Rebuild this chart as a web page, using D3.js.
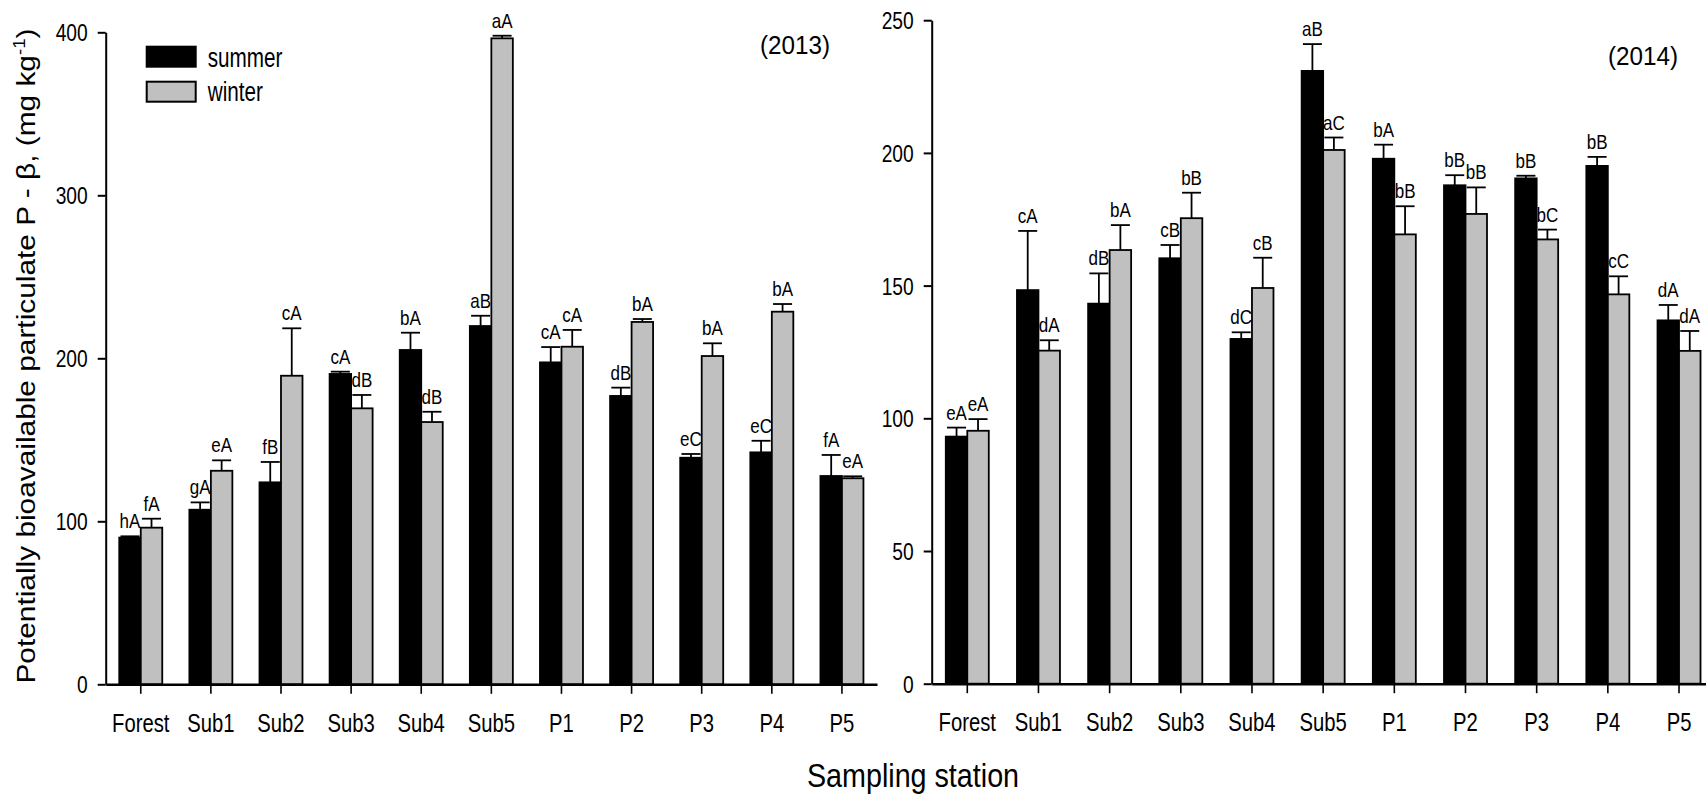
<!DOCTYPE html>
<html>
<head>
<meta charset="utf-8">
<script src="https://d3js.org/d3.v7.min.js"></script>
<style>
  body { margin: 0; background: #fff; }
  svg text { font-family: "Liberation Sans", Arial, sans-serif; fill: #000; }
  .axis path, .axis line { stroke: #000; }
</style>
</head>
<body>
<div id="chart"></div>
<script>
  // values
  const stations = ["Forest", "Sub1", "Sub2", "Sub3", "Sub4", "Sub5", "P1", "P2", "P3", "P4", "P5"];

  const summer2013 = [90.0, 107.1, 123.9, 190.4, 205.1, 219.8, 197.5, 176.9, 139.0, 142.3, 127.8];
  const summer2013Err = [0.8, 4.5, 12.5, 1.4, 10.6, 6.3, 9.4, 5.1, 2.3, 7.1, 12.9];
  const winter2013 = [96.1, 131.0, 189.3, 169.3, 160.9, 396.3, 207.1, 222.3, 201.4, 228.6, 126.4];
  const winter2013Err = [5.5, 6.4, 29.1, 8.2, 6.3, 1.6, 10.3, 1.8, 7.8, 4.7, 1.2];
  const summer2013Letters = ["hA", "gA", "fB", "cA", "bA", "aB", "cA", "dB", "eC", "eC", "fA"];
  const winter2013Letters = ["fA", "eA", "cA", "dB", "dB", "aA", "cA", "bA", "bA", "bA", "eA"];

  const summer2014 = [93.1, 148.3, 143.2, 160.3, 129.9, 230.9, 197.8, 187.8, 190.4, 195.1, 136.9];
  const summer2014Err = [3.4, 22.3, 11.4, 5.0, 2.5, 10.1, 5.3, 3.8, 1.0, 3.4, 5.8];
  const winter2014 = [95.3, 125.5, 163.4, 175.4, 149.1, 201.1, 169.3, 177.0, 167.4, 146.7, 125.4];
  const winter2014Err = [4.4, 3.9, 9.4, 9.6, 11.4, 4.7, 10.6, 10.0, 3.7, 6.8, 7.5];
  const summer2014Letters = ["eA", "cA", "dB", "cB", "dC", "aB", "bA", "bB", "bB", "bB", "dA"];
  const winter2014Letters = ["eA", "dA", "bA", "bB", "cB", "aC", "bB", "bB", "bC", "cC", "dA"];

  const ticks2013 = [0, 100, 200, 300, 400];
  const ticks2014 = [0, 50, 100, 150, 200, 250];

  const seasons = ["summer", "winter"];
  const seasonFill = { summer: "#000000", winter: "#c0c0c0" };

  const width = 1706, height = 797;
  const svg = d3.select("#chart").append("svg")
    .attr("width", width).attr("height", height);

  // text helper: the original uses a condensed face, so squeeze horizontally
  function addText(g, x, y, str, size, k, anchor) {
    return g.append("text")
      .attr("transform", `translate(${x},${y}) scale(${k},1)`)
      .attr("text-anchor", anchor || "middle")
      .style("font-size", size + "px")
      .text(str);
  }

  const panels = [
    {
      year: "(2013)", yMax: 400, ticks: ticks2013,
      summer: summer2013, summerErr: summer2013Err, summerLetters: summer2013Letters,
      winter: winter2013, winterErr: winter2013Err, winterLetters: winter2013Letters,
      left: 105.7, right: 877, top: 32.3, bottom: 684.3, yearX: 795, yearY: 53.5
    },
    {
      year: "(2014)", yMax: 250, ticks: ticks2014,
      summer: summer2014, summerErr: summer2014Err, summerLetters: summer2014Letters,
      winter: winter2014, winterErr: winter2014Err, winterLetters: winter2014Letters,
      left: 931.7, right: 1714.6, top: 20.2, bottom: 683.7, yearX: 1643, yearY: 65
    }
  ];

  panels.forEach(p => {
    const g = svg.append("g");

    const x = d3.scaleBand().domain(stations).range([p.left, p.right]).padding(0);
    const inner = d3.scaleBand().domain(seasons).range([-21.5, 21.5]).padding(0);
    const y = d3.scaleLinear().domain([0, p.yMax]).range([p.bottom, p.top]);

    const rows = [];
    stations.forEach((s, i) => {
      rows.push({ station: s, season: "summer", value: p.summer[i], err: p.summerErr[i], letter: p.summerLetters[i] });
      rows.push({ station: s, season: "winter", value: p.winter[i], err: p.winterErr[i], letter: p.winterLetters[i] });
    });
    const cx = d => x(d.station) + x.bandwidth() / 2 + inner(d.season) + inner.bandwidth() / 2;

    // bars
    g.selectAll(".bar")
      .data(rows)
      .enter().append("rect")
      .attr("class", "bar")
      .attr("x", d => x(d.station) + x.bandwidth() / 2 + inner(d.season))
      .attr("width", inner.bandwidth())
      .attr("y", d => y(d.value))
      .attr("height", d => y(0) - y(d.value))
      .attr("fill", d => seasonFill[d.season])
      .attr("stroke", "#000")
      .attr("stroke-width", 1.8);

    // error bars (upper only)
    g.selectAll(".stem")
      .data(rows)
      .enter().append("line")
      .attr("x1", cx).attr("x2", cx)
      .attr("y1", d => y(d.value)).attr("y2", d => y(d.value + d.err))
      .attr("stroke", "#000").attr("stroke-width", 1.8);

    g.selectAll(".cap")
      .data(rows)
      .enter().append("line")
      .attr("x1", d => cx(d) - 9.5).attr("x2", d => cx(d) + 9.5)
      .attr("y1", d => y(d.value + d.err)).attr("y2", d => y(d.value + d.err))
      .attr("stroke", "#000").attr("stroke-width", 1.8);

    // significance letters
    rows.forEach(d => {
      addText(g, cx(d), y(d.value + d.err) - 8, d.letter, 20.5, 0.83, "middle");
    });

    // y axis
    const yAxis = g.append("g")
      .attr("class", "axis")
      .attr("transform", `translate(${p.left},0)`)
      .call(d3.axisLeft(y).tickValues(p.ticks).tickSize(8).tickSizeOuter(0).tickFormat(d3.format("d")));
    yAxis.select(".domain").attr("stroke-width", 2);
    yAxis.selectAll(".tick line").attr("stroke-width", 2);
    yAxis.selectAll(".tick text")
      .attr("x", 0).attr("dy", "0.36em")
      .attr("transform", "translate(-18,0) scale(0.8,1)")
      .style("font-size", "24px")
      .attr("font-family", null);

    // x axis
    const xAxis = g.append("g")
      .attr("class", "axis")
      .attr("transform", `translate(0,${p.bottom})`)
      .call(d3.axisBottom(x).tickSize(9.5).tickSizeOuter(0));
    xAxis.select(".domain").attr("stroke-width", 2.6);
    xAxis.selectAll(".tick line").attr("stroke-width", 1.6);
    xAxis.selectAll(".tick text")
      .attr("y", 0).attr("dy", 0)
      .attr("transform", "translate(0,47.6) scale(0.81,1)")
      .style("font-size", "25px")
      .attr("font-family", null);

    addText(g, p.yearX, p.yearY, p.year, 25.5, 0.95, "middle");
  });

  // legend (left panel)
  const legend = svg.append("g");
  seasons.forEach((s, i) => {
    legend.append("rect")
      .attr("x", 146.7).attr("y", 46.7 + i * 35)
      .attr("width", 49).attr("height", 20)
      .attr("fill", seasonFill[s])
      .attr("stroke", "#000").attr("stroke-width", 2);
    addText(legend, 207.7, 66.5 + i * 34, s, 28, 0.74, "start");
  });

  // axis titles
  const yTitle = svg.append("text")
    .attr("transform", "translate(35,356) rotate(-90) scale(1.17,1)")
    .attr("text-anchor", "middle")
    .style("font-size", "25.5px");
  yTitle.append("tspan").text("Potentially bioavailable particulate P - \u03B2, (mg kg");
  yTitle.append("tspan").attr("dy", -10).style("font-size", "16px").text("-1");
  yTitle.append("tspan").attr("dy", 10).text(")");

  addText(svg, 913, 786.5, "Sampling station", 33, 0.87, "middle");
</script>
</body>
</html>
